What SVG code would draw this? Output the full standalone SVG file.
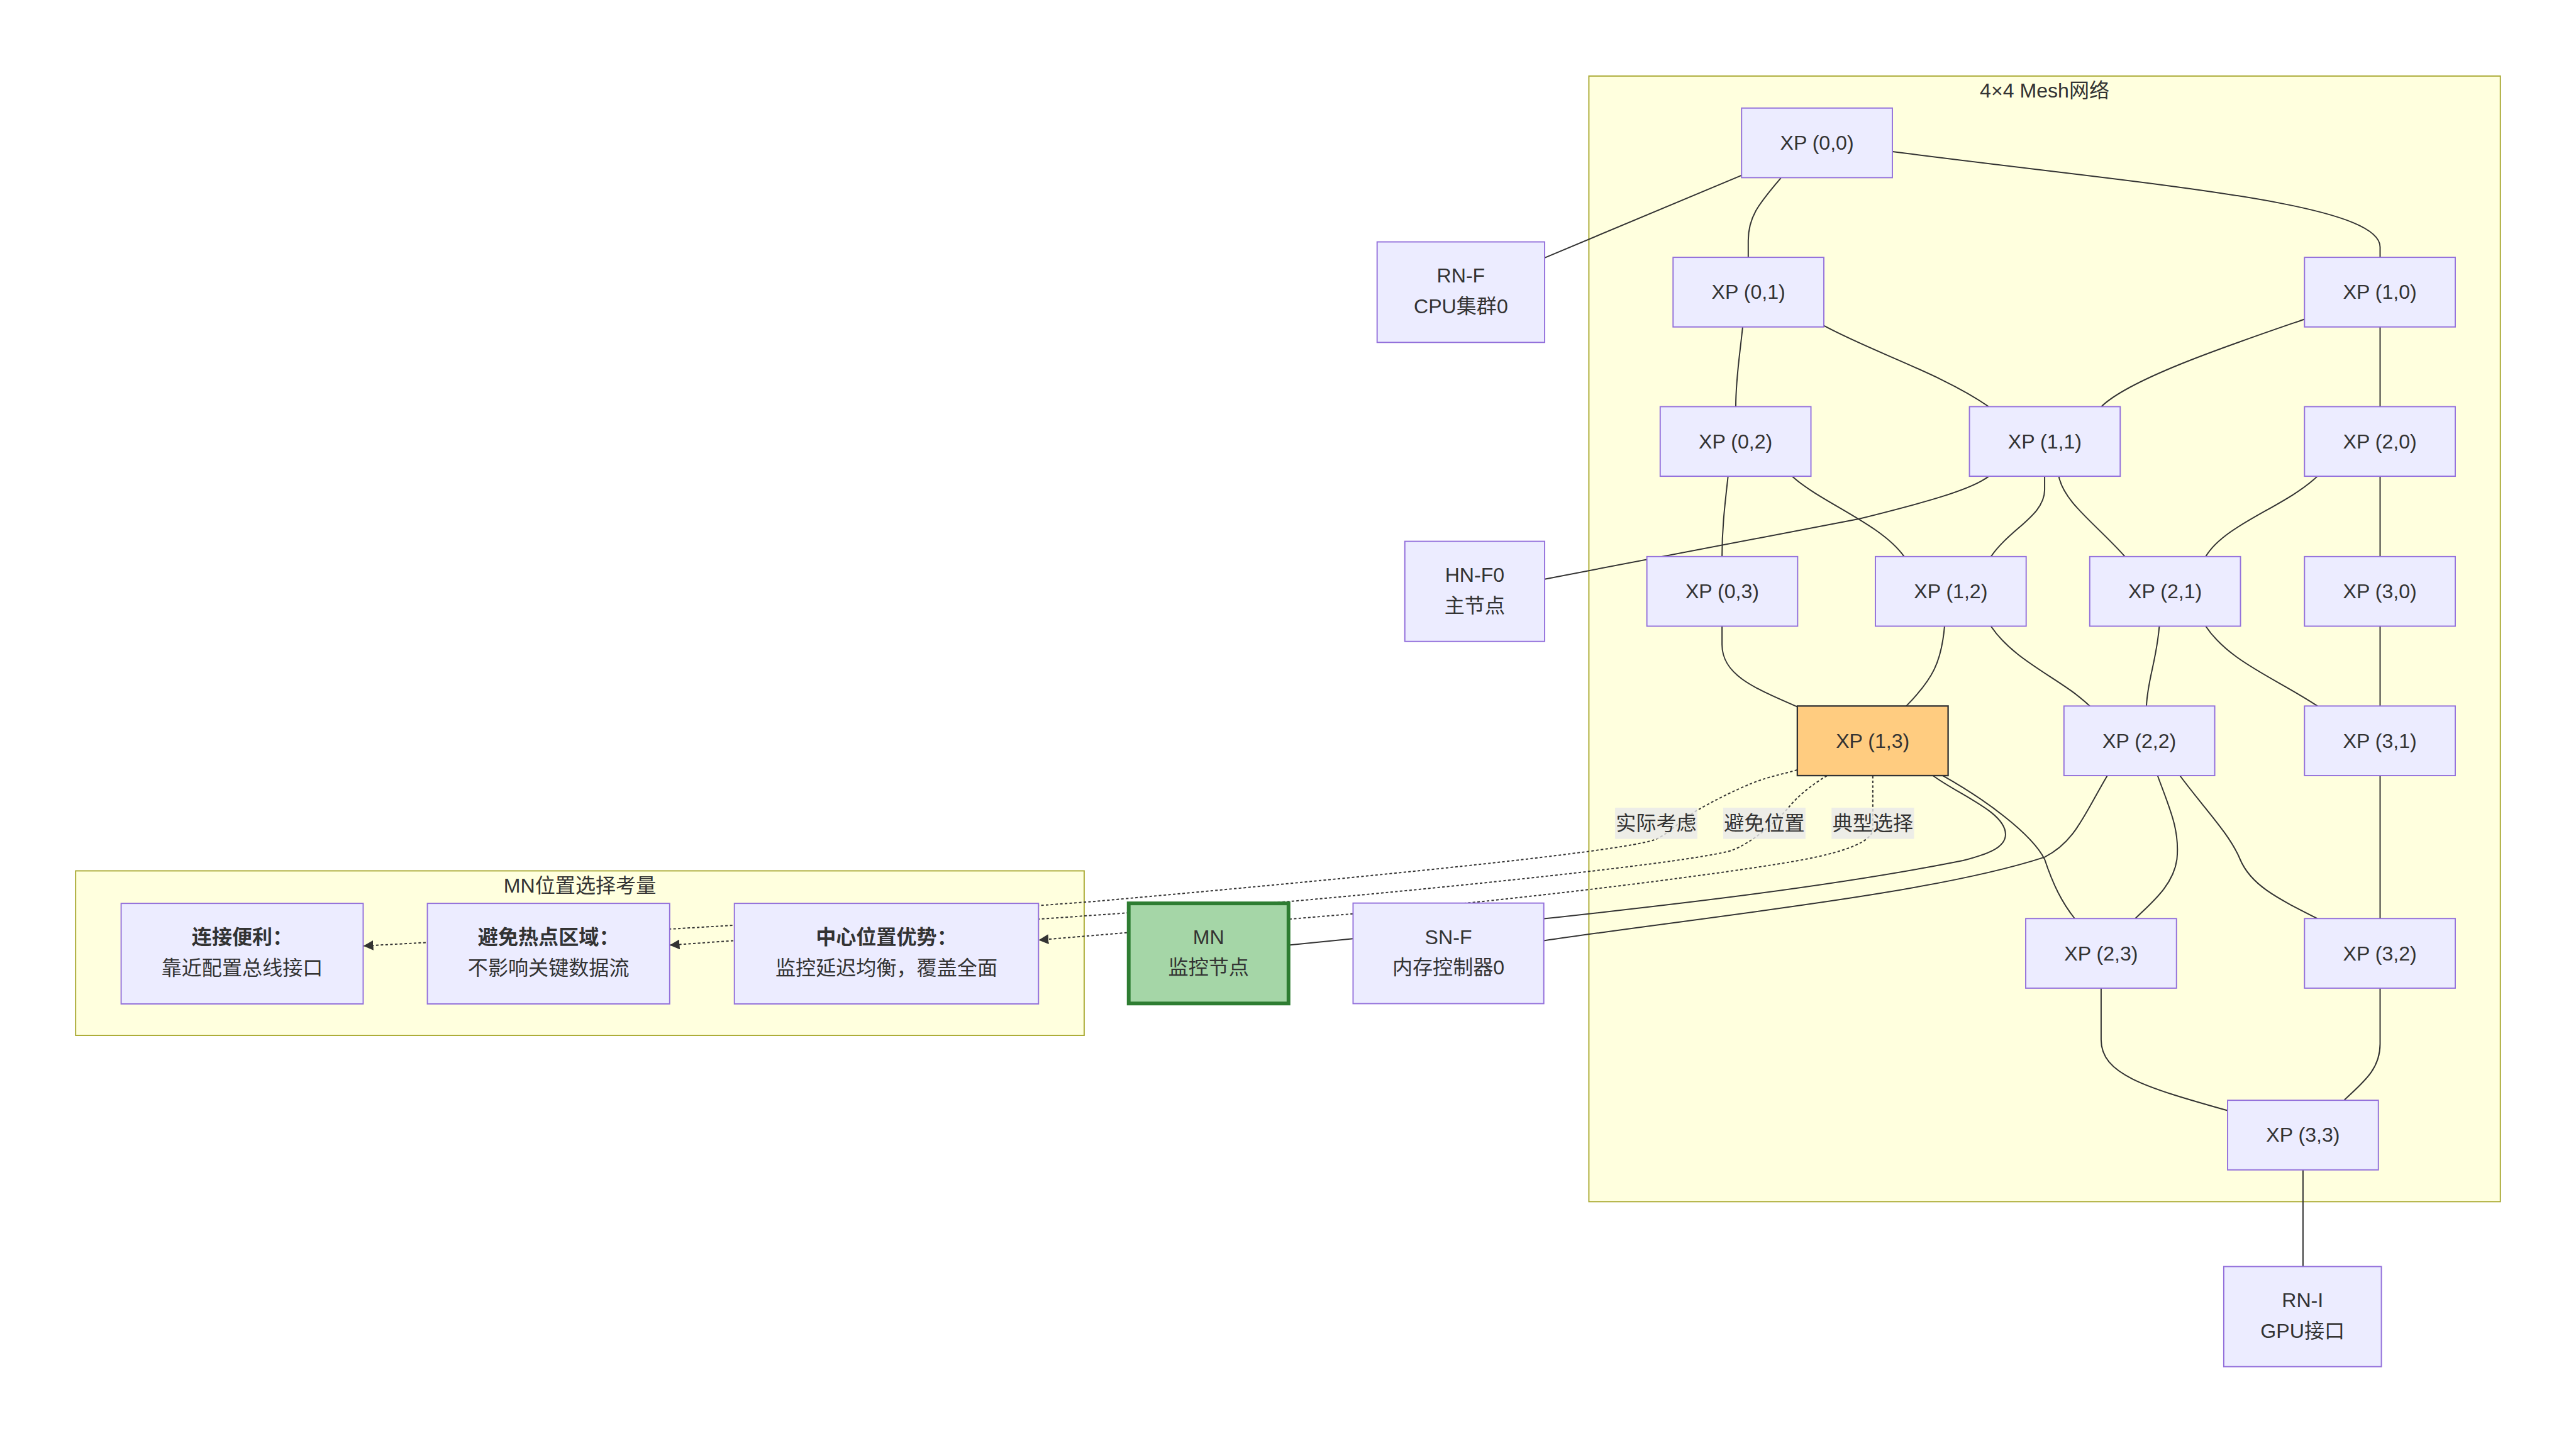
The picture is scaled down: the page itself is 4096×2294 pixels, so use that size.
<svg xmlns="http://www.w3.org/2000/svg" width="4096" height="2294" viewBox="0 0 4096 2294">
<defs>
<style>
text { font-family: "Liberation Sans", "Noto Sans CJK SC", sans-serif; font-size: 47px; fill: #333; text-anchor: middle; dominant-baseline: central; }
.b { font-weight: bold; }
.node rect { fill: #ECECFF; stroke: #9370DB; stroke-width: 2.8; }
.cluster rect { fill: #FFFFDE; stroke: #AAAA33; stroke-width: 2.8; }
.edge { fill: none; stroke: #333; stroke-width: 2.9; }
.dot { stroke-dasharray: 6 5; marker-end: url(#arrow); }
.lbl { fill: #E8E8E8; fill-opacity: 0.8; }
</style>
<marker id="arrow" viewBox="0 0 10 10" refX="10" refY="5" markerUnits="userSpaceOnUse" markerWidth="23" markerHeight="23" orient="auto"><path d="M0,0 L10,5 L0,10 z" fill="#333" stroke="none"/></marker>
</defs>
<rect width="4096" height="2294" fill="#ffffff"/>
<g transform="scale(0.683)">
<g id="clusters">
<g id="mesh" class="cluster"><rect x="3699" y="177" width="2122" height="2620"/><text x="4760" y="211">4×4 Mesh网络</text></g>
<g id="mnchoice" class="cluster"><rect x="176" y="2027" width="2348" height="383"/><text x="1350" y="2062">MN位置选择考量</text></g>
</g>
<g id="connectors">
<path class="edge" d="M3596 600 L4055 408"/>
<path class="edge" d="M4146 414 C4100 470 4070 500 4070 560 L4070 599"/>
<path class="edge" d="M4406 353 C5000 430 5541 470 5541 575 L5541 599"/>
<path class="edge" d="M4057 761 C4050 830 4041 880 4041 946.5"/>
<path class="edge" d="M4246 758 C4360 820 4520 870 4630 946.5"/>
<path class="edge" d="M5365 743 C5200 800 4960 880 4892 946.5"/>
<path class="edge" d="M5541 761 L5541 946.5"/>
<path class="edge" d="M4023 1108.5 C4015 1180 4009 1230 4009 1295.5"/>
<path class="edge" d="M4172 1108.5 C4240 1170 4380 1220 4433 1295.5"/>
<path class="edge" d="M4630 1108.5 C4590 1140 4480 1170 4327 1208 L3596 1348"/>
<path class="edge" d="M4760 1108.5 L4760 1140 C4760 1200 4680 1230 4635 1295.5"/>
<path class="edge" d="M4793 1108.5 C4805 1170 4880 1220 4947 1295.5"/>
<path class="edge" d="M5395 1108.5 C5320 1180 5180 1220 5135 1295.5"/>
<path class="edge" d="M5541 1108.5 L5541 1295.5"/>
<path class="edge" d="M4009 1457.5 L4009 1500 C4009 1570 4080 1600 4184 1645"/>
<path class="edge" d="M4527 1457.5 C4520 1540 4500 1580 4438 1643.3"/>
<path class="edge" d="M4635 1457.5 C4690 1540 4800 1580 4865 1643.3"/>
<path class="edge" d="M5027 1457.5 C5020 1540 5000 1580 4997 1643.3"/>
<path class="edge" d="M5135 1457.5 C5190 1540 5300 1580 5395 1643.3"/>
<path class="edge" d="M5541 1457.5 L5541 1643.3"/>
<path class="edge" d="M4500 1805.3 C4560 1850 4669 1890 4669 1942 C4669 1975 4620 1990 4570 2003 C4270 2063 3896 2105.5 3594 2138.5"/>
<path class="edge" d="M4906 1805.3 C4850 1900 4830 1960 4760 1995 C4500 2080 4000 2130 3594 2189.5"/>
<path class="edge" d="M4523 1805.3 C4620 1860 4730 1940 4760 2000 C4780 2060 4800 2100 4830 2138"/>
<path class="edge" d="M5023 1805.3 C5050 1880 5075 1930 5068 2000 C5060 2060 5010 2100 4971 2138"/>
<path class="edge" d="M5075 1805.3 C5130 1880 5190 1940 5215 2000 C5240 2060 5300 2090 5395 2138"/>
<path class="edge" d="M5541 1805.3 L5541 2138"/>
<path class="edge" d="M4891.5 2300 L4891.5 2420 C4891.5 2500 4990 2530 5186 2585"/>
<path class="edge" d="M5541 2300 L5541 2430 C5541 2490 5500 2520 5457 2561"/>
<path class="edge" d="M5361.5 2723 L5361.5 2948"/>
<path class="edge" d="M3000 2200 L3150 2185"/>
<path class="edge dot" d="M4184 1792 C4149 1802.3 4117.5 1807.5 4079 1823 C4040.5 1838.5 3991 1863 3953 1885 C3915 1907 3880 1945 3851 1955 C3741 1990 2950 2062 2550 2098 C1980 2140.8 1346 2175 846 2201.7"/>
<path class="edge dot" d="M4253 1806 C4225 1822 4190 1848 4166 1877 C4141 1907 4080 1962 4030 1980 C3920 2010 3355 2067 3005 2098 L1559 2200"/>
<path class="edge dot" d="M4360 1806 L4360 1930 C4358 1975 4210 2000 4127 2013 C3877 2052 3470 2100 3150 2127 L2418 2188"/>
<g id="edge-labels">
<rect class="lbl" x="3760" y="1880" width="191.6" height="72.7"/><text x="3855.8" y="1916.3">实际考虑</text>
<rect class="lbl" x="4011.7" y="1880" width="191.7" height="72.7"/><text x="4107.5" y="1916.3">避免位置</text>
<rect class="lbl" x="4264" y="1880" width="192" height="72.7"/><text x="4360" y="1916.3">典型选择</text>
</g>
</g>
<g id="XP00" class="node"><rect x="4054.5" y="251.5" width="351" height="162"/><text x="4230" y="332.5">XP (0,0)</text></g>
<g id="XP01" class="node"><rect x="3895" y="599" width="351" height="162"/><text x="4070.5" y="680">XP (0,1)</text></g>
<g id="XP10" class="node"><rect x="5365" y="599" width="351" height="162"/><text x="5540.5" y="680">XP (1,0)</text></g>
<g id="XP02" class="node"><rect x="3865" y="946.5" width="351" height="162"/><text x="4040.5" y="1027.5">XP (0,2)</text></g>
<g id="XP11" class="node"><rect x="4585" y="946.5" width="351" height="162"/><text x="4760.5" y="1027.5">XP (1,1)</text></g>
<g id="XP20" class="node"><rect x="5365" y="946.5" width="351" height="162"/><text x="5540.5" y="1027.5">XP (2,0)</text></g>
<g id="XP03" class="node"><rect x="3834" y="1295.5" width="351" height="162"/><text x="4009.5" y="1376.5">XP (0,3)</text></g>
<g id="XP12" class="node"><rect x="4366" y="1295.5" width="351" height="162"/><text x="4541.5" y="1376.5">XP (1,2)</text></g>
<g id="XP21" class="node"><rect x="4865" y="1295.5" width="351" height="162"/><text x="5040.5" y="1376.5">XP (2,1)</text></g>
<g id="XP30" class="node"><rect x="5365" y="1295.5" width="351" height="162"/><text x="5540.5" y="1376.5">XP (3,0)</text></g>
<g id="XP13" class="node"><rect x="4184.3" y="1643.3" width="351" height="162" style="fill:#FFCC80;stroke:#333;stroke-width:3.4"/><text x="4359.8" y="1724.3">XP (1,3)</text></g>
<g id="XP22" class="node"><rect x="4805" y="1643.3" width="351" height="162"/><text x="4980.5" y="1724.3">XP (2,2)</text></g>
<g id="XP31" class="node"><rect x="5365" y="1643.3" width="351" height="162"/><text x="5540.5" y="1724.3">XP (3,1)</text></g>
<g id="XP23" class="node"><rect x="4716" y="2138" width="351" height="162"/><text x="4891.5" y="2219">XP (2,3)</text></g>
<g id="XP32" class="node"><rect x="5365" y="2138" width="351" height="162"/><text x="5540.5" y="2219">XP (3,2)</text></g>
<g id="XP33" class="node"><rect x="5186" y="2561" width="351" height="162"/><text x="5361.5" y="2642">XP (3,3)</text></g>
<g id="RNF" class="node"><rect x="3206" y="563" width="390" height="234"/><text x="3401" y="642">RN-F</text><text x="3401" y="713">CPU集群0</text></g>
<g id="HNF0" class="node"><rect x="3270.5" y="1260" width="325.5" height="233"/><text x="3433.3" y="1338.5">HN-F0</text><text x="3433.3" y="1409.5">主节点</text></g>
<g id="SNF" class="node"><rect x="3150" y="2102" width="444" height="234"/><text x="3372" y="2181">SN-F</text><text x="3372" y="2252">内存控制器0</text></g>
<g id="MN" class="node"><rect x="2627.7" y="2102.7" width="372" height="233" style="fill:#A5D6A7;stroke:#2E7D32;stroke-width:8.7"/><text x="2813.7" y="2181.2">MN</text><text x="2813.7" y="2252.2">监控节点</text></g>
<g id="RNI" class="node"><rect x="5177" y="2948" width="367" height="233"/><text x="5360.5" y="3026.5">RN-I</text><text x="5360.5" y="3097.5">GPU接口</text></g>
<g id="C1" class="node"><rect x="282" y="2102.7" width="563.5" height="234"/><text class="b" x="563.8" y="2181.7">连接便利：</text><text x="563.8" y="2252.7">靠近配置总线接口</text></g>
<g id="C2" class="node"><rect x="995" y="2102.7" width="564" height="234"/><text class="b" x="1277" y="2181.7">避免热点区域：</text><text x="1277" y="2252.7">不影响关键数据流</text></g>
<g id="C3" class="node"><rect x="1709.7" y="2102.7" width="708" height="234"/><text class="b" x="2063.7" y="2181.7">中心位置优势：</text><text x="2063.7" y="2252.7">监控延迟均衡，覆盖全面</text></g>
</g>
</svg>
